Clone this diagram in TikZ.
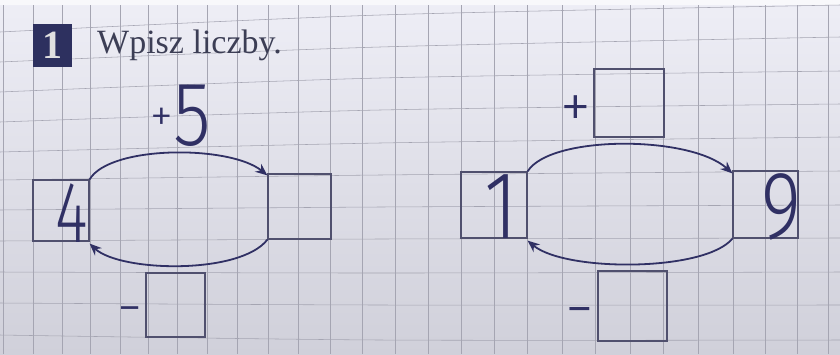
\documentclass[tikz,border=0pt]{standalone}
\usepackage{fontspec}
\usetikzlibrary{arrows.meta}
\newfontfamily\titlefont{Liberation Serif}
\newfontfamily\digitlight{Fira Sans Light}
\newfontfamily\digitreg{Lato}
\definecolor{paperTop}{RGB}{238,238,246}
\definecolor{paperBot}{RGB}{208,208,218}
\definecolor{gridc}{RGB}{165,165,178}
\definecolor{ink}{RGB}{48,48,100}
\definecolor{boxc}{RGB}{80,80,110}
\definecolor{titlec}{RGB}{60,62,85}
\definecolor{badgec}{RGB}{45,48,95}
\begin{document}
\begin{tikzpicture}[x=1pt,y=-1pt,
  gridline/.style={gridc, line width=0.55pt},
  answerbox/.style={draw=boxc, line width=1.2pt, inner sep=0pt, rectangle},
  digit/.style={text=ink, inner sep=0pt, anchor=base},
  arc/.style={ink, line width=1.8pt, -{Stealth[length=12pt,width=10pt]}},
  sign/.style={text=ink, inner sep=0pt}]
\useasboundingbox (0,0) rectangle (840,354);
\shade[top color=paperTop, bottom color=paperBot] (0,0) rectangle (840,354);
\fill[white!60!paperTop] (0,0) rectangle (840,5);
% grid
\foreach \x in {3,33,62,90,120,148,177,207,237,268,298,330,362,395,428,461,494,527,562,595,630,663,698,733,765,797,828}
  \draw[gridline] (\x,5) -- (\x,354);
\foreach \a/\b/\c in {32/15/5,62/47/37,92/78/71,122/110/104,152/143/137,180/175/171,210/207/205,241/239/238,272/273/272,303/305/305,335/340/340}
  \draw[gridline] plot[smooth] coordinates {(0,\a) (380,\b) (840,\c)};
% title
\node[fill=badgec, minimum width=39pt, minimum height=43pt, inner sep=0pt, text=white!88!black, font=\titlefont\bfseries\fontsize{40}{40}\selectfont] (badge) at (52.5,45.5) {1};
\node[anchor=base west, inner sep=0pt, text=titlec, font=\titlefont\fontsize{34}{34}\selectfont] (title) at (97,53) {Wpisz liczby.};
% left diagram
\node[answerbox, minimum width=56pt, minimum height=61pt] (b4) at (61,210.5) {};
\node[digit, font=\digitlight\fontsize{87}{87}\selectfont] (d4) at (71.5,242) {\scalebox{0.72}[1]{4}};
\node[answerbox, minimum width=63pt, minimum height=65pt] (bA) at (299.5,206.5) {};
\node[answerbox, minimum width=59pt, minimum height=64pt] (bB) at (175.5,305) {};
\node[sign, font=\digitreg\fontsize{40}{40}\selectfont] (mB) at (130,314) {−};
\node[digit, font=\digitlight\fontsize{91}{91}\selectfont] (p5) at (181,145) {\raisebox{14pt}{\fontsize{46}{46}\selectfont +}\scalebox{0.85}[1]{5}};
\draw[arc] (b4.north east) .. controls (110,145) and (230,145) .. ([yshift=-2pt]bA.north west);
\draw[arc] (bA.south west) .. controls (240,275) and (120,272) .. ([yshift=-2pt]b4.south east);
% right diagram
\node[answerbox, minimum width=66pt, minimum height=66pt] (b1) at (494,205) {};
\node[digit, font=\digitlight\fontsize{96}{96}\selectfont] (d1) at (501,238) {\scalebox{0.85}[1]{1}};
\node[answerbox, minimum width=65pt, minimum height=67pt] (b9) at (765.5,204.5) {};
\node[digit, font=\digitlight\fontsize{96}{96}\selectfont] (d9) at (781,238) {\scalebox{0.8}[1]{9}};
\node[answerbox, minimum width=70pt, minimum height=68pt] (bT) at (629,103) {};
\node[sign, font=\digitreg\fontsize{46}{46}\selectfont] (pT) at (575.5,109) {+};
\node[answerbox, minimum width=69pt, minimum height=70pt] (bD) at (632.5,306) {};
\node[sign, font=\digitreg\fontsize{46}{46}\selectfont] (mD) at (580,316) {−};
\draw[arc] (b1.north east) .. controls (550,135) and (690,135) .. ([yshift=-3pt]b9.north west);
\draw[arc] (b9.south west) .. controls (705,272) and (565,272) .. ([yshift=-2pt]b1.south east);
\end{tikzpicture}
\end{document}
